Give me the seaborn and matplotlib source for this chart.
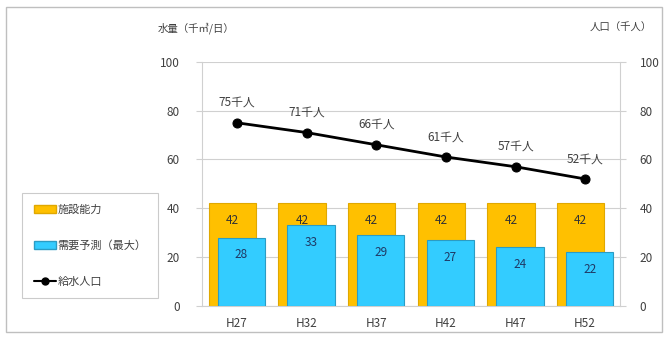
import numpy as np
import pandas as pd
import matplotlib
matplotlib.use("Agg")
import matplotlib.pyplot as plt
from matplotlib.patches import Patch, Rectangle
from matplotlib.lines import Line2D
import seaborn as sns

categories = ["H27", "H32", "H37", "H42", "H47", "H52"]
capacity = [42, 42, 42, 42, 42, 42]          # 施設能力
demand_max = [28, 33, 29, 27, 24, 22]        # 需要予測（最大）
population = [75, 71, 66, 61, 57, 52]        # 給水人口 (千人)
left_label = "水量（千㎥/日）"
right_label = "人口（千人）"
legend_labels = ["施設能力", "需要予測（最大）", "給水人口"]

sns.set_theme(style="white")
plt.rcParams["font.family"] = ["Noto Sans CJK JP", "DejaVu Sans"]

ORANGE = "#FFC000"
ORANGE_E = "#E0A800"
BLUE = "#33CCFF"
BLUE_E = "#2B9CC4"
GRID = "#d0d0d0"
TXT = "#404040"

fig = plt.figure(figsize=(6.69, 3.42), dpi=100)
ax = fig.add_axes([202/669, 1-306/342, (620-202)/669, (306-61.7)/342])

df = pd.DataFrame({"cat": categories, "cap": capacity, "dem": demand_max})
w = 0.68
off = 0.065
sns.barplot(data=df, x="cat", y="cap", color=ORANGE, width=w, ax=ax,
            edgecolor=ORANGE_E, linewidth=0.8, saturation=1, zorder=2)
n1 = len(ax.patches)
sns.barplot(data=df, x="cat", y="dem", color=BLUE, width=w, ax=ax,
            edgecolor=BLUE_E, linewidth=0.8, saturation=1, zorder=3)
for i, p in enumerate(ax.patches):
    if i < n1:
        p.set_x(p.get_x() - off)
    else:
        p.set_x(p.get_x() + off)
        p.set_zorder(3)

for i, p in enumerate(ax.patches):
    xc = p.get_x() + p.get_width() / 2
    h = p.get_height()
    if i < n1:
        ax.text(xc, h - 7, f"{h:.0f}", ha="center", va="center",
                fontsize=8.5, color="#333333", zorder=5)
    else:
        ax.text(xc, h - 7, f"{h:.0f}", ha="center", va="center",
                fontsize=8.5, color="#1F3864", zorder=5)

ax.set_ylim(0, 100)
ax.set_xlim(-0.5, len(categories) - 0.5)
ax.set_yticks(np.arange(0, 101, 20))
ax.yaxis.grid(True, color=GRID, linewidth=0.8, zorder=0)
ax.set_axisbelow(True)
ax.set_xlabel("")
ax.set_ylabel("")
ax.set_xticks(range(len(categories)))
ax.set_xticklabels(categories)
ax.set_xticks(np.arange(-0.5, len(categories)), minor=True)
ax.tick_params(axis="x", which="major", length=0, pad=8, labelsize=8.5, labelcolor=TXT)
ax.tick_params(axis="x", which="minor", length=4, color=GRID, width=0.8)
ax.tick_params(axis="y", length=4, color=GRID, width=0.8, labelsize=8.5,
               labelcolor=TXT, pad=12, left=True)
for s in ["left", "right", "bottom", "top"]:
    ax.spines[s].set_color(GRID)
    ax.spines[s].set_linewidth(0.8)
ax.spines["top"].set_visible(False)

ax2 = ax.twinx()
sns.lineplot(x=np.arange(len(population)), y=population, ax=ax2, color="black",
             marker="o", markersize=6.5, linewidth=2, markeredgecolor="black", zorder=6)
ax2.set_ylim(0, 100)
ax2.set_yticks(np.arange(0, 101, 20))
ax2.tick_params(axis="y", length=4, color=GRID, width=0.8, labelsize=8.5,
                labelcolor=TXT, pad=10, right=True)
for s in ["left", "right", "bottom", "top"]:
    ax2.spines[s].set_visible(False)
for i, v in enumerate(population):
    ax2.text(i, v + 8.3, f"{v}千人", ha="center", va="center", fontsize=8.5, color=TXT)
ax2.set_xlim(-0.5, len(categories) - 0.5)

fig.text(158/669, 1-28/342, left_label, fontsize=7.5, color=TXT, ha="left", va="center")
fig.text(652/669, 1-28/342, right_label, fontsize=7.5, color=TXT, ha="right", va="center")

handles = [
    Patch(facecolor=ORANGE, edgecolor=ORANGE_E),
    Patch(facecolor=BLUE, edgecolor=BLUE_E),
    Line2D([0], [0], color="black", marker="o", markersize=5, linewidth=1.5),
]
leg = fig.legend(handles, legend_labels, loc="upper left",
                 bbox_to_anchor=(22/669, 1-193/342), bbox_transform=fig.transFigure,
                 fontsize=8, frameon=True, fancybox=False, labelspacing=2.3,
                 handlelength=2.0, handleheight=0.8, handletextpad=0.15,
                 borderpad=1.05, borderaxespad=0, labelcolor=TXT)
leg.get_frame().set_edgecolor("#bfbfbf")
leg.get_frame().set_linewidth(0.8)

fig.patches.append(Rectangle((6/669, 1-332/342), (662-6)/669, (332-7)/342,
                             transform=fig.transFigure, fill=False,
                             edgecolor="#bfbfbf", linewidth=1.0))

fig.savefig("out.png", dpi=100)
